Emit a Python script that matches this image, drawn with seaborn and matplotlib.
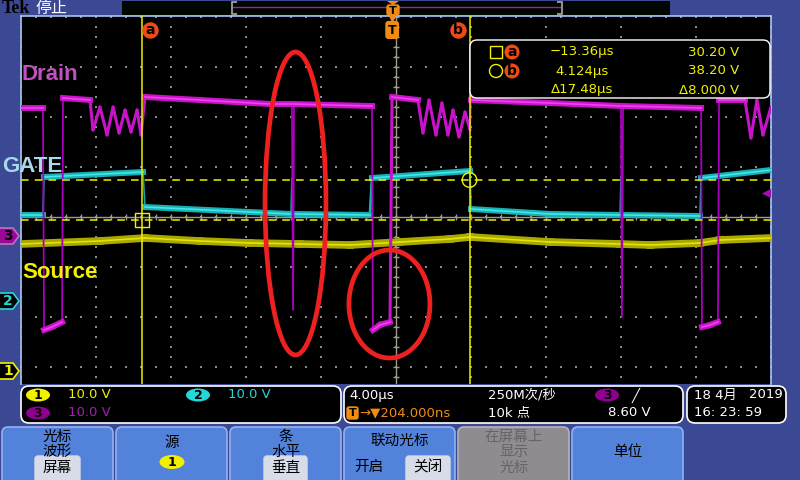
# plot.py
# -------
# Rebuilds a Tek scope screenshot (cursor menu, three channels) with seaborn.
# Time axis is in µs (4 µs/div), vertical axis in screen divisions.

import matplotlib
matplotlib.use("Agg")
import matplotlib.pyplot as plt
import matplotlib.transforms as mtransforms
from matplotlib.lines import Line2D
from matplotlib.patches import Ellipse, FancyBboxPatch, Polygon, Rectangle
import numpy as np
import pandas as pd
import seaborn as sns

plt.rcParams["font.family"] = ["DejaVu Sans", "Noto Sans CJK SC"]
CJK = ["Noto Sans CJK SC", "DejaVu Sans"]

# ---------------------------------------------------------------------------
# Waveform data (time µs, level in divisions)
# ---------------------------------------------------------------------------

drain_t = [-20.0, -18.83, -18.77, -18.35, -17.81, -17.76, -16.32, -16.16, -15.79,
           -15.41, -15.09, -14.77, -14.45, -14.13, -13.81, -13.60, -13.39, -10.45,
           -6.72, -5.55, -5.49, -5.44, -1.39, -1.28, -1.23, -0.85, -0.32, -0.21,
           1.17, 1.44, 1.76, 2.13, 2.45, 2.77, 3.04, 3.36, 3.68, 3.95, 4.00, 8.21,
           12.00, 12.05, 12.11, 16.21, 16.27, 16.32, 16.75, 17.17, 17.23, 18.61,
           18.93, 19.25, 19.57, 20.0]
drain_v = [5.18, 5.18, 0.74, 0.80, 0.90, 5.38, 5.34, 4.74, 5.20, 4.64, 5.20, 4.68,
           5.14, 4.70, 5.14, 4.64, 5.40, 5.34, 5.26, 5.26, 1.14, 5.26, 5.22, 5.22,
           0.74, 0.84, 0.90, 5.40, 5.34, 4.68, 5.34, 4.64, 5.28, 4.64, 5.14, 4.60,
           5.10, 4.74, 5.34, 5.28, 5.22, 1.00, 5.22, 5.18, 5.18, 0.80, 0.84, 0.90,
           5.34, 5.34, 4.58, 5.34, 4.64, 5.20]

gate_t = [-20.0, -18.83, -18.77, -13.49, -13.39, -5.60, -5.55, -5.49, -1.39, -1.28,
          3.95, 4.00, 8.21, 11.95, 12.00, 12.05, 16.21, 16.27, 20.0]
gate_v = [3.04, 3.04, 3.80, 3.90, 3.20, 3.06, 3.78, 3.06, 3.04, 3.78, 3.92, 3.16,
          3.06, 3.04, 3.78, 3.04, 3.02, 3.78, 3.94]

source_t = [-20.0, -15.79, -13.39, -10.45, -7.79, -5.12, -2.45, 0.21, 2.88, 3.95,
            8.21, 11.95, 13.55, 16.21, 17.28, 20.0]
source_v = [2.46, 2.52, 2.58, 2.52, 2.48, 2.46, 2.44, 2.50, 2.56, 2.60, 2.50, 2.46,
            2.44, 2.48, 2.54, 2.58]

# Scope settings / readouts
trigger_pos = -0.204                  # µs, T marker relative to screen centre
cursor_times = [-13.36, 4.124]        # µs from trigger
cursor_volts = [30.20, 38.20]         # V on channel 1
volts_per_div = 10.0
ch_offsets = {"1": -0.08, "2": 1.32, "3": 2.62}
trigger_level = 3.48
readout_time = ["\u221213.36\u00b5s", "4.124\u00b5s", "\u039417.48\u00b5s"]
readout_volt = ["30.20 V", "38.20 V", "\u03948.000 V"]

# Red hand-drawn ellipses (centre t, centre v, width µs, height div)
circle_marks = [(-5.36, 3.27, 3.25, 6.06), (-0.35, 1.26, 4.32, 2.16)]

BLUE = "#3b4894"
YEL = "#f0f000"
CYA = "#22d8d8"
MAG = "#a020b0"
ORG = "#f04a14"
TORG = "#f08c14"

fig = plt.figure(figsize=(8, 4.8), dpi=100, facecolor=BLUE)
# pixel transform for the chrome around the graticule (x right, y down)
PX = mtransforms.Affine2D().scale(1 / 800, -1 / 480).translate(0, 1) + fig.transFigure

ax = fig.add_axes([21 / 800, 1 - 384 / 480, 750 / 800, 368 / 480])
ax.set_facecolor("black")

# ---------------------------------------------------------------------------
# Graticule
# ---------------------------------------------------------------------------

minor_v = np.arange(-0.2, 7.01, 0.2)
minor_t = np.arange(-20, 20.01, 0.8)
gx, gy = np.meshgrid(np.arange(-20, 20.1, 4), minor_v)
hx, hy = np.meshgrid(minor_t, np.arange(0, 7.1, 1))
dots = pd.DataFrame({"t": np.r_[gx.ravel(), hx.ravel()],
                     "v": np.r_[gy.ravel(), hy.ravel()]})
sns.scatterplot(data=dots, x="t", y="v", marker="s", s=1.3, color="#8c8c8c",
                linewidth=0, ax=ax, zorder=1)
ax.axvline(0, color="#a09a88", lw=1, zorder=1.5)
ax.axhline(3, color="#a09a88", lw=1, zorder=1.5)
sns.scatterplot(x=np.zeros_like(minor_v), y=minor_v, marker="_", s=16,
                color="#a09a88", linewidth=1, ax=ax, zorder=1.5)
sns.scatterplot(x=minor_t, y=np.full_like(minor_t, 3.0), marker="|", s=16,
                color="#a09a88", linewidth=1, ax=ax, zorder=1.5)


def draw_trace(t, v, band, core, edge, band_lw, edge_lw, ring_lw, z):
    t = np.asarray(t, float)
    v = np.asarray(v, float)
    # thin line for everything (fast edges and spikes)
    sns.lineplot(x=t, y=v, sort=False, estimator=None, color=edge, lw=edge_lw,
                 ax=ax, zorder=z)
    # sort segments: flat (noisy band) / sloped ringing (medium) / edges (thin)
    flat, ring = [], []
    run = 0
    for i in range(len(t) - 1):
        dx = abs(t[i + 1] - t[i]) * 18.75
        dy = abs(v[i + 1] - v[i]) * 50
        seg = [(run, t[i], v[i]), (run, t[i + 1], v[i + 1])]
        if dy <= 1.2 * dx + 0.5:
            flat += seg
        elif dx >= 2:
            ring += seg
        else:
            run += 1
            continue
        run += 1
    cols = ["run", "t", "v"]
    if ring:
        sns.lineplot(data=pd.DataFrame(ring, columns=cols), x="t", y="v",
                     units="run", estimator=None, sort=False, color=band,
                     lw=ring_lw, ax=ax, zorder=z, solid_capstyle="round")
    df = pd.DataFrame(flat, columns=cols)
    sns.lineplot(data=df, x="t", y="v", units="run", estimator=None, sort=False,
                 color=band, lw=band_lw, ax=ax, zorder=z)
    sns.lineplot(data=df, x="t", y="v", units="run", estimator=None, sort=False,
                 color=core, lw=1.2, ax=ax, zorder=z)


draw_trace(source_t, source_v, "#a8a800", "#e4e400", "#c8c800", 5.5, 1.2, 2.0, 3)
draw_trace(gate_t, gate_v, "#18b0b4", "#40e8e8", "#10a8a8", 4.3, 1.2, 2.0, 4)
draw_trace(drain_t, drain_v, "#c814c8", "#f040f0", "#a800bc", 4.3, 1.3, 2.2, 5)

# ---------------------------------------------------------------------------
# Cursors
# ---------------------------------------------------------------------------

cur_t = [trigger_pos + c for c in cursor_times]
cur_v = [ch_offsets["1"] + c / volts_per_div for c in cursor_volts]
for tt in cur_t:
    ax.axvline(tt, color=YEL, lw=1.1, zorder=6)
for vv in cur_v:
    ax.axhline(vv, color=YEL, lw=1.1, ls=(0, (5, 4)), zorder=6)
ax.scatter(cur_t[0], cur_v[0], marker="s", s=100, facecolor="none",
           edgecolor=YEL, lw=1, zorder=7)
ax.scatter(cur_t[1], cur_v[1], marker="o", s=110, facecolor="none",
           edgecolor=YEL, lw=1, zorder=7)
for tt, lab, dt in [(cur_t[0], "a", 0.45), (cur_t[1], "b", -0.6)]:
    ax.scatter(tt + dt, 6.74, marker="o", s=140, color=ORG, lw=0, zorder=8)
    ax.text(tt + dt, 6.73, lab, ha="center", va="center", fontsize=10,
            fontweight="bold", color="black", zorder=9)

# trigger position marker
ax.scatter(trigger_pos, 6.95, marker="v", s=30, color=TORG, lw=0, zorder=8,
           clip_on=False)
ax.text(trigger_pos, 6.74, "T", ha="center", va="center", fontsize=9,
        fontweight="bold", color="black", zorder=9,
        bbox=dict(boxstyle="round,pad=0.15,rounding_size=0.2", fc=TORG, ec=TORG))

# trigger level arrow on the right edge
ax.scatter(19.72, trigger_level, marker="<", s=45, color="#a010b0", lw=0, zorder=8)
ax.plot([19.72, 20.0], [trigger_level] * 2, color="#a010b0", lw=1, zorder=8)

# red ellipses
for ct, cv, w, h in circle_marks:
    ax.add_patch(Ellipse((ct, cv), w, h, fill=False, ec="#ee2020", lw=3.4, zorder=9))

# trace labels
ax.text(-19.95, 5.84, "Drain", color="#c050c0", fontsize=16, fontweight="bold",
        family="Liberation Sans", va="center", zorder=9)
ax.text(-21.0, 4.02, "GATE", color="#a8d8ec", fontsize=16, fontweight="bold",
        family="Liberation Sans", va="center", zorder=9, clip_on=False)
ax.text(-19.95, 1.88, "Source", color=YEL, fontsize=16, fontweight="bold",
        family="Liberation Sans", va="center", zorder=9)

# channel ground markers on the left margin
blend = mtransforms.blended_transform_factory(ax.transAxes, ax.transData)
marker_style = {"1": ("black", YEL, YEL), "2": ("black", CYA, CYA),
                "3": ("#9a0898", "#c070c0", "black")}
for ch, off in ch_offsets.items():
    fc, ec, tc = marker_style[ch]
    pts = [(-0.030, off - 0.16), (-0.0107, off - 0.16), (-0.0027, off),
           (-0.0107, off + 0.16), (-0.030, off + 0.16)]
    ax.add_patch(Polygon(pts, closed=True, fc=fc, ec=ec, lw=1.2,
                         transform=blend, clip_on=False, zorder=9))
    ax.text(-0.017, off, ch, transform=blend, ha="center", va="center",
            fontsize=10, fontweight="bold", color=tc, clip_on=False, zorder=10)

ax.set_xlim(-20, 20)
ax.set_ylim(-0.34, 7.02)
ax.set_xticks([])
ax.set_yticks([])
ax.set_xlabel("")
ax.set_ylabel("")
for side in ["left", "right", "top"]:
    ax.spines[side].set_color("#a9c6f2")
    ax.spines[side].set_linewidth(1.2)
ax.spines["bottom"].set_visible(False)

# ---------------------------------------------------------------------------
# Screen chrome (pixel coordinates)
# ---------------------------------------------------------------------------


def px_box(x, y, w, h, fc, ec, r=6, lw=1.0, z=2):
    fig.add_artist(FancyBboxPatch((x, y), w, h,
                                  boxstyle=f"round,pad=0,rounding_size={r}",
                                  transform=PX, fc=fc, ec=ec, lw=lw, zorder=z))


def px_text(x, y, s, color, size=9.5, ha="left", family=None, weight="normal", z=4):
    fig.text(x, y, s, transform=PX, color=color, fontsize=size, ha=ha,
             va="center", family=family or ["DejaVu Sans", "Noto Sans CJK SC"],
             fontweight=weight, zorder=z)


def px_oval(x, y, label, fc, w=24, h=13):
    fig.add_artist(Ellipse((x, y), w, h, transform=PX, fc=fc, ec="none", zorder=3))
    px_text(x, y + 0.5, label, "black", size=9, ha="center", weight="bold")


# top bar
px_text(2, 8.5, "Tek", "black", size=13, family="Liberation Serif", weight="bold")
px_text(36, 8.5, "停止", "white", size=11.5, family=CJK)
fig.add_artist(Rectangle((122, 1), 548, 14, transform=PX, fc="#000600", ec="none", zorder=2))
fig.add_artist(Line2D([233, 561], [7, 7], transform=PX, color="#a020a0", lw=1, zorder=3))
fig.add_artist(Line2D([236, 232, 232, 236], [2, 2, 14, 14], transform=PX,
                      color="#909090", lw=1.5, zorder=3))
fig.add_artist(Line2D([558, 562, 562, 558], [2, 2, 14, 14], transform=PX,
                      color="#909090", lw=1.5, zorder=3))
fig.add_artist(Polygon([(387, 1), (399, 1), (393, 5)], transform=PX, fc=TORG, ec="none", zorder=3))
px_box(387, 5, 12, 10, TORG, TORG, r=2, z=3)
px_text(393, 10.5, "T", "black", size=8, ha="center", weight="bold")

# cursor readout box
px_box(470, 40, 300, 58, "black", "white", r=7, lw=1.0, z=3)
fig.add_artist(Rectangle((490, 46), 12, 12, transform=PX, fc="none", ec=YEL, lw=1, zorder=4))
fig.add_artist(Ellipse((496, 71), 13, 13, transform=PX, fc="none", ec=YEL, lw=1, zorder=4))
for yy, lab in [(52, "a"), (71, "b")]:
    fig.add_artist(Ellipse((512, yy), 15, 15, transform=PX, fc=ORG, ec="none", zorder=4))
    px_text(512, yy, lab, "black", size=10, ha="center", weight="bold", z=5)
for yy, ts, vs in zip([52, 71, 90], readout_time, readout_volt):
    px_text(582, yy, ts, YEL, size=9.5, ha="center")
    px_text(739, yy, vs, YEL, size=9.5, ha="right")

# status boxes
px_box(21, 386, 320, 37, "black", "white", r=8, lw=1.2)
px_box(344, 386, 339, 37, "black", "white", r=8, lw=1.2)
px_box(687, 386, 99, 37, "black", "white", r=8, lw=1.2)

px_oval(38, 395, "1", YEL)
px_text(68, 395, "10.0 V", YEL)
px_oval(198, 395, "2", CYA)
px_text(228, 395, "10.0 V", CYA)
px_oval(38, 413, "3", "#900090")
px_text(68, 413, "10.0 V", MAG)

px_text(349, 395, "4.00\u00b5s", "white")
px_box(347, 407, 11, 12, TORG, TORG, r=2, z=3)
px_text(352.5, 413.5, "T", "black", size=8, ha="center", weight="bold")
px_text(359, 413, "\u2192\u25bc204.000ns", TORG)
px_text(488, 395, "250M次/秒", "white")
px_text(488, 413, "10k 点", "white")
px_oval(607, 395, "3", "#900090")
px_text(632, 395, "\u2571", "white")
px_text(651, 413, "8.60 V", "white", ha="right")
px_text(694, 395, "18 4月", "white")
px_text(783, 395, "2019", "white", ha="right")
px_text(694, 413, "16: 23: 59", "white")

# soft-key menu
buttons = [(2, 113), (116, 227), (230, 341), (344, 455), (458, 569), (572, 683)]
for i, (x0, x1) in enumerate(buttons):
    fc, ec = ("#8e8c8e", "#b4b4b8") if i == 4 else ("#5282da", "#92b2f2")
    px_box(x0, 427, x1 - x0, 60, fc, ec, r=6, lw=1.2)

HL = "#d8dce8"
px_box(35, 456, 45, 30, HL, HL, r=3, z=3)
px_box(264, 456, 43, 30, HL, HL, r=3, z=3)
px_box(406, 456, 44, 30, HL, HL, r=3, z=3)

menu = [(57, 437, "光标"), (57, 452, "波形"), (57, 468, "屏幕"),
        (172, 443, "源"),
        (286, 437, "条"), (286, 452, "水平"), (286, 468, "垂直"),
        (400, 441, "联动光标"), (369, 467, "开启"), (428, 467, "关闭"),
        (628, 452, "单位")]
for x, y, s in menu:
    px_text(x, y, s, "black", size=10.5, ha="center", family=CJK)
for y, s in [(437, "在屏幕上"), (452, "显示"), (468, "光标")]:
    px_text(514, y, s, "#666466", size=10.5, ha="center", family=CJK)
px_oval(172, 462, "1", YEL, w=25, h=14)

fig.savefig("out.png", dpi=100, facecolor=BLUE)
